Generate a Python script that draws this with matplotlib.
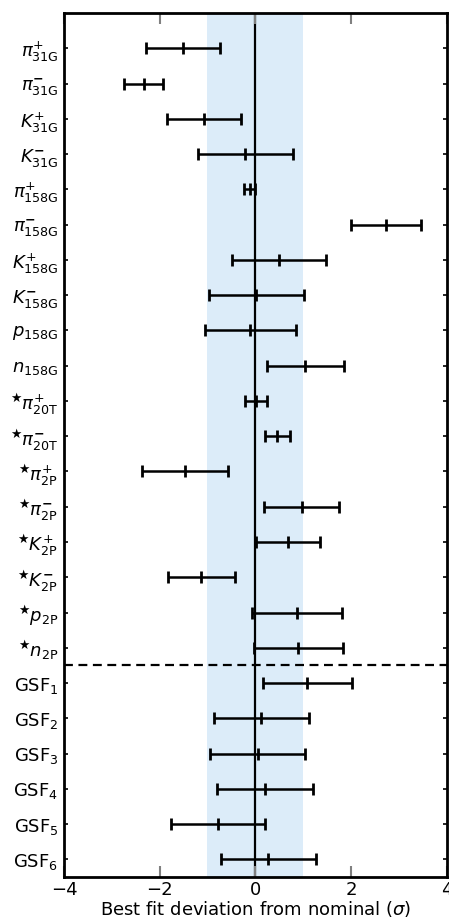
import matplotlib
matplotlib.use("Agg")
import matplotlib.pyplot as plt

labels = [
    r"$\pi^{+}_{\rm 31G}$", r"$\pi^{\mathbf{-}}_{\rm 31G}$", r"$K^{+}_{\rm 31G}$", r"$K^{\mathbf{-}}_{\rm 31G}$",
    r"$\pi^{+}_{\rm 158G}$", r"$\pi^{\mathbf{-}}_{\rm 158G}$", r"$K^{+}_{\rm 158G}$", r"$K^{\mathbf{-}}_{\rm 158G}$",
    r"$p_{\rm 158G}$", r"$n_{\rm 158G}$",
    r"$^{\bigstar}\pi^{+}_{\rm 20T}$", r"$^{\bigstar}\pi^{\mathbf{-}}_{\rm 20T}$",
    r"$^{\bigstar}\pi^{+}_{\rm 2P}$", r"$^{\bigstar}\pi^{\mathbf{-}}_{\rm 2P}$",
    r"$^{\bigstar}K^{+}_{\rm 2P}$", r"$^{\bigstar}K^{\mathbf{-}}_{\rm 2P}$",
    r"$^{\bigstar}p_{\rm 2P}$", r"$^{\bigstar}n_{\rm 2P}$",
    r"GSF$_1$", r"GSF$_2$", r"GSF$_3$", r"GSF$_4$", r"GSF$_5$", r"GSF$_6$",
]
best_fit = [-1.51, -2.33, -1.07, -0.21, -0.12, 2.73, 0.49, 0.02, -0.10, 1.05,
            0.01, 0.46, -1.46, 0.97, 0.68, -1.13, 0.88, 0.90,
            1.09, 0.13, 0.05, 0.20, -0.78, 0.27]
errors = [0.78, 0.41, 0.77, 0.99, 0.11, 0.73, 0.98, 0.99, 0.96, 0.81,
          0.23, 0.26, 0.90, 0.78, 0.67, 0.70, 0.94, 0.93,
          0.93, 0.99, 0.99, 1.00, 0.98, 0.99]
n_flux = 18

plt.rcParams['font.size'] = 13
plt.rcParams['mathtext.fontset'] = 'dejavusans'

fig = plt.figure(figsize=(4.49, 9.21), dpi=100)
ax = fig.add_axes([0.1425, 0.0478, 0.852, 0.938])

ypos = list(range(len(labels)))
ax.axvspan(-1, 1, color='#dcecf9', zorder=0, lw=0)
ax.axvline(0, color='black', lw=1.6, zorder=1)
ax.axhline(n_flux - 0.5, color='black', lw=1.6, ls=(0, (4, 2.5)), zorder=1)

ax.errorbar(best_fit, ypos, xerr=errors, fmt='|', color='black', ms=8, mew=2,
            elinewidth=1.8, capsize=4.5, capthick=2, zorder=3)

ax.set_xlim(-4, 4)
ax.set_ylim(len(labels) - 0.5, -1)
ax.set_yticks(ypos)
ax.set_yticklabels(labels)
ax.set_xticks([-4, -2, 0, 2, 4])
ax.tick_params(axis='x', direction='in', length=8, width=1.5, color='gray', top=True, pad=3)
ax.tick_params(axis='y', direction='in', length=3, width=1.2, right=True, pad=4)
for s in ax.spines.values():
    s.set_linewidth(2)
ax.set_xlabel(r"Best fit deviation from nominal ($\sigma$)", labelpad=0)

fig.savefig("out.png", dpi=100)
